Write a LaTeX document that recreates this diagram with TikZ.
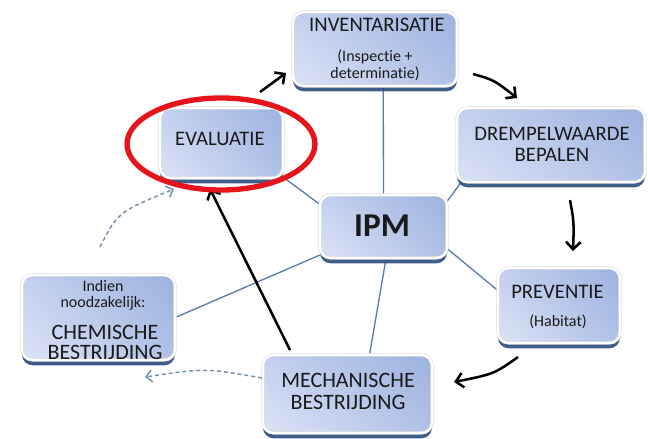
\documentclass[tikz,border=0pt]{standalone}
\usepackage{fontspec}
\setmainfont{Carlito}[Ligatures=NoCommon]
\usetikzlibrary{arrows.meta,shadows,shadings,backgrounds,calc}
\definecolor{boxTL}{HTML}{C3D0EE}
\definecolor{boxTR}{HTML}{9DB2E0}
\definecolor{boxBL}{HTML}{DCE3F5}
\definecolor{boxBR}{HTML}{B0C1E7}
\definecolor{shadowC}{HTML}{2B4A7E}
\definecolor{linkC}{HTML}{5A7CA6}
\definecolor{dashC}{HTML}{7490AE}
\definecolor{ringC}{HTML}{E8141B}
\definecolor{txtC}{HTML}{1A1A1A}
\tikzset{
  box/.style={rectangle, rounded corners=8pt, draw=gray!30, double=white, double distance=1.6pt, line width=0.4pt,
    upper left=boxTL, upper right=boxTR, lower left=boxBL, lower right=boxBR,
    drop shadow={shadow xshift=0pt, shadow yshift=-4pt, fill=shadowC, opacity=0.9}},
  big/.style={text=txtC, font=\fontsize{15.5}{18}\selectfont, inner sep=0pt},
  bigger/.style={text=txtC, font=\fontsize{16.5}{19}\selectfont, inner sep=0pt},
  small/.style={text=txtC, font=\fontsize{12}{14}\selectfont, inner sep=0pt},
  link/.style={draw=linkC, line width=1pt},
  flow/.style={draw=black, line width=1.9pt, -{Straight Barb[length=5.5pt,width=11pt]}},
  dflow/.style={draw=dashC, line width=1.1pt, dash pattern=on 3pt off 2.2pt, -{Straight Barb[length=4.5pt,width=9pt]}}
}
\begin{document}
\begin{tikzpicture}[x=0.75pt,y=-0.75pt]
\useasboundingbox (0,0) rectangle (648,438);

% boxes
\node[box, minimum width=123pt, minimum height=55.5pt] (inv) at (375,49) {};
\node[box, minimum width=92.25pt, minimum height=52.5pt] (eval) at (221.5,143) {};
\node[box, minimum width=141pt, minimum height=55.5pt] (drem) at (551,145) {};
\node[box, minimum width=114.75pt, minimum height=63.75pt] (chem) at (98.5,317.5) {};
\node[box, minimum width=126.75pt, minimum height=58.5pt] (mech) at (347.5,394) {};
\node[box, minimum width=91.5pt, minimum height=56.25pt] (prev) at (559,305.5) {};
\node[box, minimum width=95.25pt, minimum height=47.25pt] (ipm) at (383.5,226.5) {};

% texts
\node[big] (invT) at (377,25) {INVENTARISATIE};
\node[small] (invS1) at (375,57) {(Inspectie +};
\node[small] (invS2) at (375,74) {determinatie)};
\node[big] (evalT) at (220,139) {EVALUATIE};
\node[big] (dremT1) at (552,133.5) {DREMPELWAARDE};
\node[big] (dremT2) at (552,154.5) {BEPALEN};
\node[big] (prevT) at (557.5,291.5) {PREVENTIE};
\node[small] (prevS) at (558,321.5) {(Habitat)};
\node[small] (chemS1) at (103,286) {Indien};
\node[small] (chemS2) at (103,303) {noodzakelijk:};
\node[bigger] (chemT1) at (105,332) {CHEMISCHE};
\node[bigger] (chemT2) at (105,352) {BESTRIJDING};
\node[bigger] (mechT1) at (348,380) {MECHANISCHE};
\node[bigger] (mechT2) at (348,402) {BESTRIJDING};
\node[text=txtC, font=\fontsize{25}{29}\selectfont\bfseries, inner sep=0pt] (ipmT) at (382,226) {IPM};

% connectors behind boxes
\begin{pgfonlayer}{background}
\draw[link] ($(ipm.north west)!0.5!(ipm.north east)$) -- ($(inv.south west)!0.55!(inv.south east)$);
\draw[link] ($(ipm.north west)!0.15!(ipm.south west)$) -- ($(eval.south east)+(-4,-4)$);
\draw[link] ($(ipm.north east)!0.1!(ipm.south east)$) -- ($(drem.south west)+(6,-2)$);
\draw[link] ($(ipm.north east)!0.85!(ipm.south east)$) -- ($(prev.north west)!0.3!(prev.south west)$);
\draw[link] ($(ipm.south west)!0.52!(ipm.south east)$) -- ($(mech.north west)!0.63!(mech.north east)$);
\draw[link] ($(ipm.north west)!0.95!(ipm.south west)$) -- ($(chem.north east)!0.5!(chem.south east)$);
\end{pgfonlayer}

% arrow end points
\coordinate (a1s) at (260,92);  \coordinate (a1e) at (286,73);
\coordinate (a2s) at (473,74);  \coordinate (a2e) at (517,98);
\coordinate (a3s) at (570,200); \coordinate (a3e) at (573,251);
\coordinate (a4s) at (518,357); \coordinate (a4e) at (454,382);
\coordinate (a5s) at (290,350); \coordinate (a5e) at (210,189);
\coordinate (d1s) at (100,247); \coordinate (d1e) at (174,189);
\coordinate (d2s) at (262,378); \coordinate (d2e) at (145,377);

\draw[flow] (a1s) -- (a1e);
\draw[flow] (a2s) .. controls (494,80) .. (a2e);
\draw[flow] (a3s) .. controls (574,222) .. (a3e);
\draw[flow] (a4s) .. controls (494,374) .. (a4e);
\draw[flow] (a5s) -- (a5e);
\draw[dflow] (d1s) .. controls (118,212) .. (d1e);
\draw[dflow] (d2s) .. controls (205,368) .. (d2e);

% red ring
\draw[draw=ringC, line width=4pt] (221,144) ellipse [x radius=70.5pt, y radius=34.5pt];
\end{tikzpicture}
\end{document}
